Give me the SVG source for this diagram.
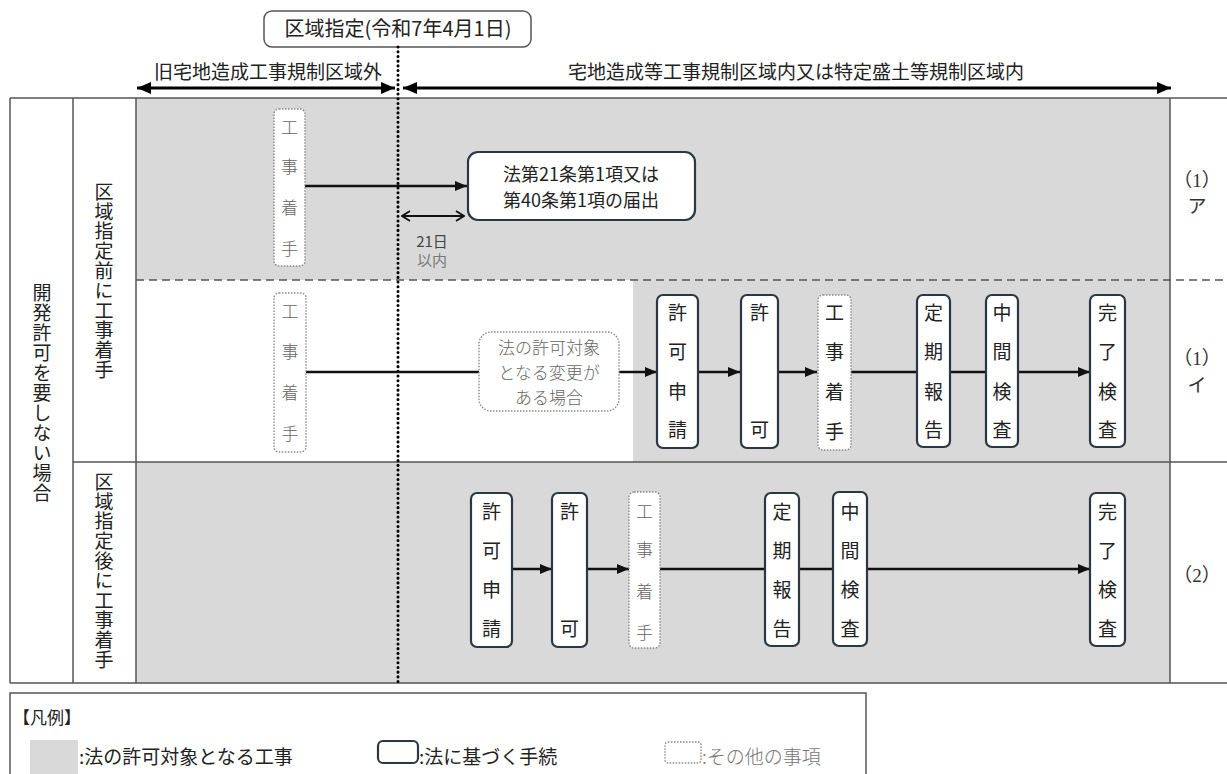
<svg xmlns="http://www.w3.org/2000/svg" width="1227" height="774" viewBox="0 0 1227 774">
<style>
text{font-family:"Noto Sans CJK JP","Noto Sans",sans-serif;fill:#222;}
.g{font-size:19px;text-anchor:middle;}
.v{font-size:19px;writing-mode:vertical-rl;text-orientation:upright;}
.m{font-size:17px;text-anchor:middle;fill:#666;font-weight:300;}
.lbl{font-size:19px;}
.tbl{stroke:#555;stroke-width:1.5;fill:none;}
.box{fill:#fff;stroke:#2b3742;stroke-width:2.2;}
.dbox{fill:#fff;stroke:#888;stroke-width:1.4;stroke-dasharray:1.5 1.5;}
.ln{stroke:#111;stroke-width:2.4;fill:none;}
.ser{font-family:"Liberation Serif","Noto Sans CJK JP",serif;font-size:19px;text-anchor:middle;fill:#333;}
</style>
<defs>
<marker id="ah" viewBox="0 0 12 10" refX="12" refY="5" markerWidth="12" markerHeight="10" markerUnits="userSpaceOnUse" orient="auto-start-reverse"><path d="M0,0 L12,5 L0,10 Z" fill="#111"/></marker>
<marker id="ahb" viewBox="0 0 14 12" refX="14" refY="6" markerWidth="14" markerHeight="12" markerUnits="userSpaceOnUse" orient="auto-start-reverse"><path d="M0,0 L14,6 L0,12 Z" fill="#000"/></marker>
<marker id="ch" viewBox="0 0 10 12" refX="9" refY="6" markerWidth="10" markerHeight="12" markerUnits="userSpaceOnUse" orient="auto-start-reverse"><path d="M1,1 L9,6 L1,11" fill="none" stroke="#111" stroke-width="1.8"/></marker>
</defs>

<g id="background">
<rect x="136" y="98" width="1034" height="585" fill="#d9d9d9"/>
<rect x="136" y="280" width="497" height="182" fill="#fff"/>
</g>

<g id="table">
<path class="tbl" d="M10,98 H1227 M10,98 V683 M73,98 V683 M136,98 V683 M1170,98 V683 M10,683 H1227 M73,462 H1227"/>
<path d="M136,280 H1227" stroke="#555" stroke-width="1.5" stroke-dasharray="8 5"/>
</g>

<g id="header">
<rect x="264" y="11" width="267" height="36" rx="8" fill="#fff" stroke="#555" stroke-width="1.5"/>
<text x="398" y="36" class="g" style="font-size:20px">区域指定(令和7年4月1日)</text>
<text x="268" y="79" class="g">旧宅地造成工事規制区域外</text>
<text x="796" y="79" class="g">宅地造成等工事規制区域内又は特定盛土等規制区域内</text>
</g>

<g id="row-labels">
<text class="v" x="42" y="283" style="letter-spacing:1px">開発許可を要しない場合</text>
<text class="v" x="104" y="182" style="letter-spacing:0.8px">区域指定前に工事着手</text>
<text class="v" x="104" y="472" style="letter-spacing:0.8px">区域指定後に工事着手</text>
<text class="ser" x="1197" y="187">（1）</text>
<text class="ser" x="1197" y="213">ア</text>
<text class="ser" x="1197" y="365">（1）</text>
<text class="ser" x="1197" y="392">イ</text>
<text class="ser" x="1197" y="582">（2）</text>
</g>

<g id="connectors">
<line x1="398" y1="47" x2="398" y2="683" stroke="#000" stroke-width="3" stroke-linecap="round" stroke-dasharray="0.1 4.6"/>
<line x1="137" y1="88" x2="395" y2="88" stroke="#000" stroke-width="3" marker-start="url(#ahb)" marker-end="url(#ahb)"/>
<line x1="403" y1="88" x2="1171" y2="88" stroke="#000" stroke-width="3" marker-start="url(#ahb)" marker-end="url(#ahb)"/>
<line class="ln" x1="305" y1="186" x2="467" y2="186" marker-end="url(#ah)"/>
<line x1="402" y1="216" x2="464" y2="216" stroke="#111" stroke-width="1.8" marker-start="url(#ch)" marker-end="url(#ch)"/>
<line class="ln" x1="306" y1="372" x2="479" y2="372"/>
<line class="ln" x1="619" y1="372" x2="657" y2="372" marker-end="url(#ah)"/>
<line class="ln" x1="698" y1="372" x2="740" y2="372" marker-end="url(#ah)"/>
<line class="ln" x1="777" y1="372" x2="817" y2="372" marker-end="url(#ah)"/>
<line class="ln" x1="851" y1="372" x2="917" y2="372"/>
<line class="ln" x1="950" y1="372" x2="986" y2="372"/>
<line class="ln" x1="1018" y1="372" x2="1090" y2="372" marker-end="url(#ah)"/>
<line class="ln" x1="512" y1="569" x2="552" y2="569" marker-end="url(#ah)"/>
<line class="ln" x1="587" y1="569" x2="629" y2="569" marker-end="url(#ah)"/>
<line class="ln" x1="660" y1="569" x2="765" y2="569"/>
<line class="ln" x1="799" y1="569" x2="833" y2="569"/>
<line class="ln" x1="867" y1="569" x2="1090" y2="569" marker-end="url(#ah)"/>
</g>

<g id="r1-start">
<rect class="dbox" x="274" y="109" width="31" height="157" rx="5"/>
<text class="m"><tspan x="289.5" y="134">工</tspan><tspan x="289.5" y="173">事</tspan><tspan x="289.5" y="214">着</tspan><tspan x="289.5" y="255">手</tspan></text>
</g>
<g id="r1-notice">
<rect class="box" x="468" y="152" width="227" height="68" rx="10"/>
<text class="g" x="581" y="181" style="font-size:18px">法第21条第1項又は</text>
<text class="g" x="581" y="207" style="font-size:18px">第40条第1項の届出</text>
</g>
<g id="r1-days">
<text x="432" y="247" style="font-size:15px;text-anchor:middle;fill:#444">21日</text>
<text x="432" y="266" style="font-size:15px;text-anchor:middle;fill:#777">以内</text>
</g>

<g id="r2-start">
<rect class="dbox" x="274" y="293" width="32" height="159" rx="5"/>
<text class="m"><tspan x="290" y="318">工</tspan><tspan x="290" y="358">事</tspan><tspan x="290" y="399">着</tspan><tspan x="290" y="440">手</tspan></text>
</g>
<g id="r2-change">
<rect class="dbox" x="479" y="332" width="140" height="79" rx="12"/>
<text class="m" x="549" y="354">法の許可対象</text>
<text class="m" x="549" y="379">となる変更が</text>
<text class="m" x="549" y="404">ある場合</text>
</g>
<g id="r2-apply">
<rect class="box" x="657" y="295" width="41" height="153" rx="6"/>
<text class="g"><tspan x="677.5" y="320">許</tspan><tspan x="677.5" y="359">可</tspan><tspan x="677.5" y="399">申</tspan><tspan x="677.5" y="437">請</tspan></text>
</g>
<g id="r2-permit">
<rect class="box" x="741" y="295" width="37" height="153" rx="6"/>
<text class="g"><tspan x="759.5" y="320">許</tspan><tspan x="759.5" y="437">可</tspan></text>
</g>
<g id="r2-begin">
<rect class="dbox" x="818" y="295" width="33" height="155" rx="5"/>
<text class="g"><tspan x="834.5" y="320">工</tspan><tspan x="834.5" y="359">事</tspan><tspan x="834.5" y="399">着</tspan><tspan x="834.5" y="439">手</tspan></text>
</g>
<g id="r2-report">
<rect class="box" x="917" y="295" width="33" height="152" rx="6"/>
<text class="g"><tspan x="933.5" y="320">定</tspan><tspan x="933.5" y="359">期</tspan><tspan x="933.5" y="399">報</tspan><tspan x="933.5" y="437">告</tspan></text>
</g>
<g id="r2-mid">
<rect class="box" x="986" y="295" width="32" height="152" rx="6"/>
<text class="g"><tspan x="1002" y="320">中</tspan><tspan x="1002" y="359">間</tspan><tspan x="1002" y="399">検</tspan><tspan x="1002" y="437">査</tspan></text>
</g>
<g id="r2-final">
<rect class="box" x="1090" y="295" width="35" height="152" rx="6"/>
<text class="g"><tspan x="1107.5" y="320">完</tspan><tspan x="1107.5" y="359">了</tspan><tspan x="1107.5" y="399">検</tspan><tspan x="1107.5" y="437">査</tspan></text>
</g>

<g id="r3-apply">
<rect class="box" x="471" y="493" width="41" height="154" rx="6"/>
<text class="g"><tspan x="491.5" y="519">許</tspan><tspan x="491.5" y="558">可</tspan><tspan x="491.5" y="597">申</tspan><tspan x="491.5" y="636">請</tspan></text>
</g>
<g id="r3-permit">
<rect class="box" x="552" y="493" width="35" height="154" rx="6"/>
<text class="g"><tspan x="569.5" y="519">許</tspan><tspan x="569.5" y="636">可</tspan></text>
</g>
<g id="r3-begin">
<rect class="dbox" x="629" y="492" width="31" height="156" rx="5"/>
<text class="m"><tspan x="644.5" y="518">工</tspan><tspan x="644.5" y="556">事</tspan><tspan x="644.5" y="598">着</tspan><tspan x="644.5" y="639">手</tspan></text>
</g>
<g id="r3-report">
<rect class="box" x="765" y="493" width="34" height="153" rx="6"/>
<text class="g"><tspan x="782" y="519">定</tspan><tspan x="782" y="558">期</tspan><tspan x="782" y="597">報</tspan><tspan x="782" y="636">告</tspan></text>
</g>
<g id="r3-mid">
<rect class="box" x="833" y="492" width="34" height="154" rx="6"/>
<text class="g"><tspan x="850" y="519">中</tspan><tspan x="850" y="558">間</tspan><tspan x="850" y="597">検</tspan><tspan x="850" y="636">査</tspan></text>
</g>
<g id="r3-final">
<rect class="box" x="1090" y="493" width="35" height="153" rx="6"/>
<text class="g"><tspan x="1107.5" y="519">完</tspan><tspan x="1107.5" y="558">了</tspan><tspan x="1107.5" y="597">検</tspan><tspan x="1107.5" y="636">査</tspan></text>
</g>

<g id="legend">
<rect x="10" y="693" width="856" height="95" fill="#fff" stroke="#555" stroke-width="1.5"/>
<text x="13" y="724" style="font-size:17px">【凡例】</text>
<rect x="30" y="740" width="48" height="34" fill="#d9d9d9"/>
<text class="lbl" x="79" y="764">:法の許可対象となる工事</text>
<rect class="box" x="378" y="741" width="40" height="22" rx="5"/>
<text class="lbl" x="419" y="764">:法に基づく手続</text>
<rect class="dbox" x="665" y="742" width="36" height="21" rx="3"/>
<text class="lbl" x="702" y="764" style="fill:#777;font-weight:300">:その他の事項</text>
</g>
</svg>
